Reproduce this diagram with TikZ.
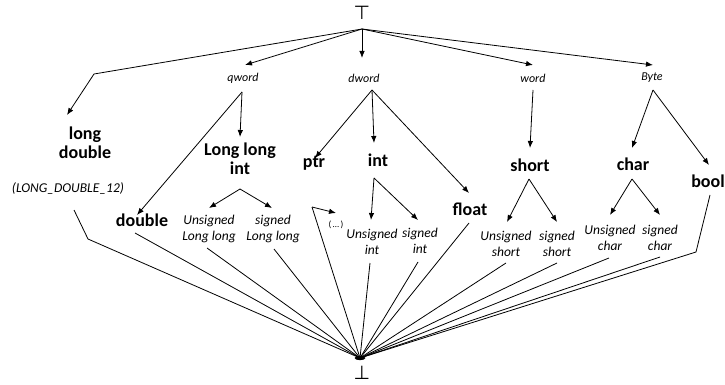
\documentclass[tikz,border=0pt]{standalone}
\usepackage{fontspec}
\setmainfont{Carlito}
\newfontfamily\symfont{DejaVu Sans}
\usetikzlibrary{arrows.meta}
\begin{document}
\begin{tikzpicture}[x=1pt,y=-1pt,
  line width=0.8pt,
  arr/.style={-{Latex[length=7pt,width=5.5pt]}},
  bold/.style={font=\fontsize{18}{19}\selectfont\bfseries,align=center,inner sep=0pt},
  small/.style={font=\fontsize{12}{14}\selectfont\itshape,inner sep=0pt},
  leaf/.style={font=\fontsize{13.5}{16}\selectfont\itshape,align=center,inner sep=0pt},
  sym/.style={font=\symfont\fontsize{19}{22}\selectfont,inner sep=0pt}]
\useasboundingbox (0,0) rectangle (725,385);

% nodes
\node[sym] (top) at (362,13) {⊤};
\node[sym] (bot) at (362,373) {⊥};
\node[small] (qword) at (243,78) {qword};
\node[small] (dword) at (364,78) {dword};
\node[small] (word) at (533,78) {word};
\node[small] (byte) at (652,78) {Byte};
\node[bold] (ld) at (85,143) {long\\double};
\node[leaf] (ld12) at (68,188) {(LONG\_DOUBLE\_12)};
\node[bold] (lli) at (240,159) {Long long\\int};
\node[bold] (dbl) at (142,220) {double};
\node[bold] (ptr) at (314,163) {ptr};
\node[bold] (int) at (378,160) {int};
\node[bold] (float) at (470,209) {float};
\node[bold] (short) at (530,165) {short};
\node[bold] (char) at (633,164) {char};
\node[bold] (bool) at (708,181) {bool};
\node[leaf] (ull) at (209,229) {Unsigned\\Long long};
\node[leaf] (sll) at (273,229) {signed\\Long long};
\node[font=\fontsize{9}{10}\selectfont,inner sep=0pt] (dots) at (336,225) {(\,…\,)};
\node[leaf] (ui) at (372,242) {Unsigned\\int};
\node[leaf] (si) at (420,241) {signed\\int};
\node[leaf] (us) at (506,243.5) {Unsigned\\short};
\node[leaf] (ss) at (557,243.5) {signed\\short};
\node[leaf] (uc) at (610,237.5) {Unsigned\\char};
\node[leaf] (sc) at (660,237.5) {signed\\char};

% connection points
\coordinate (hub) at (362,29);
\coordinate (hubb) at (360,358);
\coordinate (ldbend) at (94,74);
\coordinate (ldt) at (67,115);
\coordinate (qwt) at (245,65);
\coordinate (dwt) at (362,58);
\coordinate (wt) at (533,65);
\coordinate (bt) at (653,65);
\coordinate (qwb) at (242,92);
\coordinate (dwb) at (372,90);
\coordinate (wb) at (533,90);
\coordinate (bb) at (653,90);
\coordinate (dblt) at (137,215);
\coordinate (llit) at (240,137);
\coordinate (ptrt) at (315,158);
\coordinate (intt) at (374,143);
\coordinate (floatt) at (469,193);
\coordinate (shortt) at (530,148);
\coordinate (chart) at (632,148);
\coordinate (boolt) at (709,165);
\coordinate (llia) at (240,189);
\coordinate (ullt) at (209,208);
\coordinate (sllt) at (272,208);
\coordinate (ptrs) at (312,207);
\coordinate (dotst) at (336,213);
\coordinate (inta) at (374,178);
\coordinate (uit) at (371,220);
\coordinate (sit) at (418,220);
\coordinate (shorta) at (529,179);
\coordinate (ust) at (507,222);
\coordinate (sst) at (557,222);
\coordinate (chara) at (632,179);
\coordinate (uct) at (610,215);
\coordinate (sct) at (660,215);

% top level
\draw[arr] (hub) -- (ldbend) -- (ldt);
\draw[arr] (hub) -- (qwt);
\draw[arr] (hub) -- (dwt);
\draw[arr] (hub) -- (wt);
\draw[arr] (hub) -- (bt);
% second level
\draw[arr] (qwb) -- (dblt);
\draw[arr] (qwb) -- (llit);
\draw[arr] (dwb) -- (ptrt);
\draw[arr] (dwb) -- (intt);
\draw[arr] (dwb) -- (floatt);
\draw[arr] (wb) -- (shortt);
\draw[arr] (bb) -- (chart);
\draw[arr] (bb) -- (boolt);
% third level
\draw[arr] (llia) -- (ullt);
\draw[arr] (llia) -- (sllt);
\draw[arr] (ptrs) -- (dotst);
\draw[arr] (inta) -- (uit);
\draw[arr] (inta) -- (sit);
\draw[arr] (shorta) -- (ust);
\draw[arr] (shorta) -- (sst);
\draw[arr] (chara) -- (uct);
\draw[arr] (chara) -- (sct);

% lines to bottom
\draw (74,210) -- (88,239) -- (hubb);
\draw (135,233) -- (hubb);
\draw (207,248) -- (hubb);
\draw (274,249) -- (hubb);
\draw (ptrs) -- (hubb);
\draw (370,263) -- (hubb);
\draw (418,262) -- (hubb);
\draw (469,223) -- (hubb);
\draw (506,263) -- (hubb);
\draw (557,263) -- (hubb);
\draw (609,258) -- (hubb);
\draw (660,257) -- (hubb);
\draw (710,195) -- (696,252) -- (hubb);
\fill (hubb) ellipse (5.5pt and 2.2pt);
\end{tikzpicture}
\end{document}
